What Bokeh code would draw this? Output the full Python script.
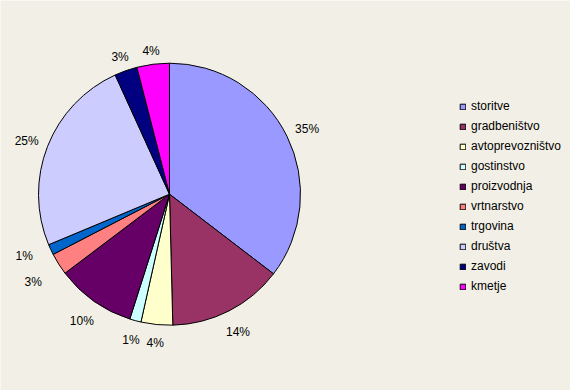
import numpy as np
from bokeh.plotting import figure
from bokeh.models import Legend, LegendItem, Range1d, ColumnDataSource
from bokeh.core.properties import value
from bokeh.embed import file_html
from bokeh.resources import INLINE

categories = ["storitve", "gradbeništvo", "avtoprevozništvo", "gostinstvo", "proizvodnja",
              "vrtnarstvo", "trgovina", "društva", "zavodi", "kmetje"]
shares = [35.4, 14.2, 3.9, 1.4, 9.8, 2.7, 1.3, 24.5, 2.8, 4.0]
colors = ["#9999FF", "#993366", "#FFFFCC", "#CCFFFF", "#660066",
          "#FF8080", "#0066CC", "#CCCCFF", "#000080", "#FF00FF"]

BG = "#F2F0E6"
FONT = "Liberation Sans"
W, H = 570, 390
cx, cy, R = 169.0, H - 193.7, 131.0

vals = np.array(shares, dtype=float)
frac = vals / vals.sum()
cum_end = np.cumsum(frac)
cum_start = cum_end - frac
# clockwise from 12 o'clock
start = np.pi / 2 - 2 * np.pi * cum_end
end = np.pi / 2 - 2 * np.pi * cum_start

p = figure(width=W, height=H, output_backend="svg", toolbar_location=None,
           x_range=Range1d(0, W), y_range=Range1d(0, H),
           x_axis_type=None, y_axis_type=None, min_border=0,
           background_fill_color=BG, border_fill_color=BG, outline_line_color=None)
p.grid.visible = False

src = ColumnDataSource(dict(start=start, end=end, color=colors, name=categories))
r = p.wedge(x=cx, y=cy, radius=R, start_angle="start", end_angle="end",
            fill_color="color", line_color="#000000", line_width=1, source=src)

# percentage labels outside the pie
labels = [f"{int(v * 100 + 0.5)}%" for v in frac]
mid = 2 * np.pi * (cum_start + frac / 2)
ux, uy = np.sin(mid), np.cos(mid)
tw = np.array([6.7 * (len(t) - 1) + 10.7 for t in labels])
th = 12.0
gap = 9.0
dist = R + gap + tw / 2 * np.abs(ux) + th / 2 * np.abs(uy)
lx = cx + dist * ux
ly = cy + dist * uy - 3.0
# simple collision avoidance between neighbouring labels
n = len(labels)
for i in range(n):
    j = (i + 1) % n
    if abs(lx[i] - lx[j]) < (tw[i] + tw[j]) / 2 and abs(ly[i] - ly[j]) < 22:
        m = (ly[i] + ly[j]) / 2
        s = 1.0 if ly[i] > ly[j] else -1.0
        ly[i] = m + s * 13
        ly[j] = m - s * 13
        lx[i] += 9 * np.sign(ux[i])
        lx[j] += 9 * np.sign(ux[j])

p.text(x=lx, y=ly, text=labels, text_align="center", text_baseline="middle",
       text_font=value(FONT), text_font_size="12px", text_color="#000000")

items = [LegendItem(label=c, renderers=[r], index=i) for i, c in enumerate(categories)]
legend = Legend(items=items, location=(459, 94), orientation="vertical",
                label_text_font=FONT, label_text_font_size="12px", label_text_color="#000000",
                glyph_width=7, glyph_height=7, label_height=20, spacing=0,
                padding=0, margin=0, label_standoff=5,
                border_line_color=None, background_fill_alpha=0)
p.add_layout(legend)

open("out.html", "w").write(file_html(p, INLINE))
